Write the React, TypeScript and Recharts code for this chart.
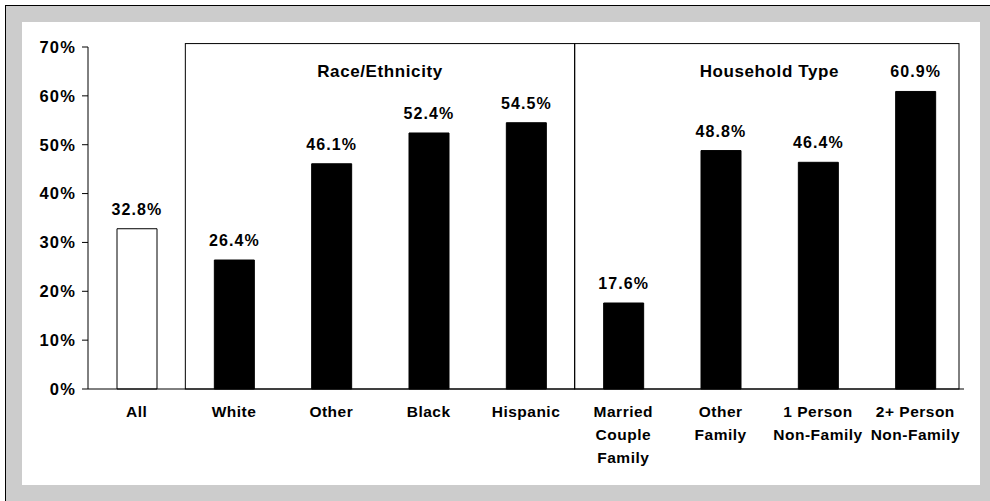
import React from "react";
import {
  BarChart,
  Bar,
  XAxis,
  YAxis,
  Cell,
  LabelList,
  ReferenceArea,
} from "recharts";

const categories = [
  "All",
  "White",
  "Other",
  "Black",
  "Hispanic",
  "Married\nCouple\nFamily",
  "Other\nFamily",
  "1 Person\nNon-Family",
  "2+ Person\nNon-Family",
];

const values = [32.8, 26.4, 46.1, 52.4, 54.5, 17.6, 48.8, 46.4, 60.9];

const yTicks = [0, 10, 20, 30, 40, 50, 60, 70];

const groupLabels = ["Race/Ethnicity", "Household Type"];
const groupStart = ["White", "Married\nCouple\nFamily"];
const groupEnd = ["Hispanic", "2+ Person\nNon-Family"];

const data = categories.map((name, i) => ({ name, value: values[i] }));

const FONT = "'Liberation Sans', Arial, Helvetica, sans-serif";

function CategoryTick(props: any) {
  const { x, y, payload } = props;
  const lines = String(payload.value).split("\n");
  return (
    <text
      x={x}
      y={y}
      textAnchor="middle"
      fill="#000"
      fontFamily={FONT}
      fontSize={15.5}
      fontWeight="bold"
      letterSpacing={0.5}
    >
      {lines.map((line, i) => (
        <tspan key={i} x={x} dy={i === 0 ? 28 : 23}>
          {line}
        </tspan>
      ))}
    </text>
  );
}

// the right-hand box stops a few px short of the axis end
function GroupBox(props: any) {
  const { x, y, width, height, trim } = props;
  return (
    <rect
      x={x}
      y={y}
      width={width - (trim || 0)}
      height={height}
      fill="none"
      stroke="#000"
      strokeWidth={1}
    />
  );
}

export default function App() {
  return (
    <div
      style={{
        position: "absolute",
        left: 0,
        top: 0,
        width: 990,
        height: 501,
        background: "#fff",
      }}
    >
      <div
        style={{
          position: "absolute",
          left: 5,
          top: 5,
          width: 985,
          height: 496,
          background: "#cccccc",
          borderTop: "1px solid #000",
          borderLeft: "1px solid #000",
          boxSizing: "border-box",
        }}
      />
      <div
        style={{
          position: "absolute",
          left: 22,
          top: 22,
          width: 958,
          height: 463,
          background: "#fff",
        }}
      />
      <div style={{ position: "absolute", left: 0, top: 0 }}>
        <BarChart
          width={990}
          height={501}
          data={data}
          margin={{ top: 47, right: 26, left: 28, bottom: 32 }}
          barSize={40}
        >
          <XAxis
            dataKey="name"
            interval={0}
            tickLine={false}
            tickSize={0}
            tickMargin={0}
            axisLine={{ stroke: "#000" }}
            height={80}
            tick={<CategoryTick />}
          />
          <YAxis
            domain={[0, 70]}
            ticks={yTicks}
            interval={0}
            width={60}
            tickFormatter={(v: number) => `${v}%`}
            axisLine={{ stroke: "#000" }}
            tickLine={{ stroke: "#000" }}
            tickSize={6}
            tickMargin={6}
            tick={{
              fill: "#000",
              fontSize: 16.5,
              fontWeight: "bold",
              fontFamily: FONT,
              letterSpacing: 1.2,
            }}
          />
          {groupLabels.map((g, i) => (
            <ReferenceArea
              key={g}
              x1={groupStart[i]}
              x2={groupEnd[i]}
              y1={0}
              y2={70.7}
              ifOverflow="visible"
              shape={(p: any) => <GroupBox {...p} trim={i === 1 ? 5 : 0} />}
              label={{
                value: g,
                position: "insideTop",
                offset: 21,
                fill: "#000",
                fontSize: 17,
                fontWeight: "bold",
                fontFamily: FONT,
                letterSpacing: 0.6,
              }}
            />
          ))}
          <Bar dataKey="value" isAnimationActive={false}>
            {data.map((d, i) => (
              <Cell
                key={d.name}
                fill={i === 0 ? "#fff" : "#000"}
                stroke="#000"
                strokeWidth={1}
              />
            ))}
            <LabelList
              dataKey="value"
              position="top"
              offset={14}
              formatter={(v: any) => `${Number(v).toFixed(1)}%`}
              fill="#000"
              fontSize={16}
              fontWeight="bold"
              fontFamily={FONT}
              letterSpacing={1.1}
            />
          </Bar>
        </BarChart>
      </div>
    </div>
  );
}
